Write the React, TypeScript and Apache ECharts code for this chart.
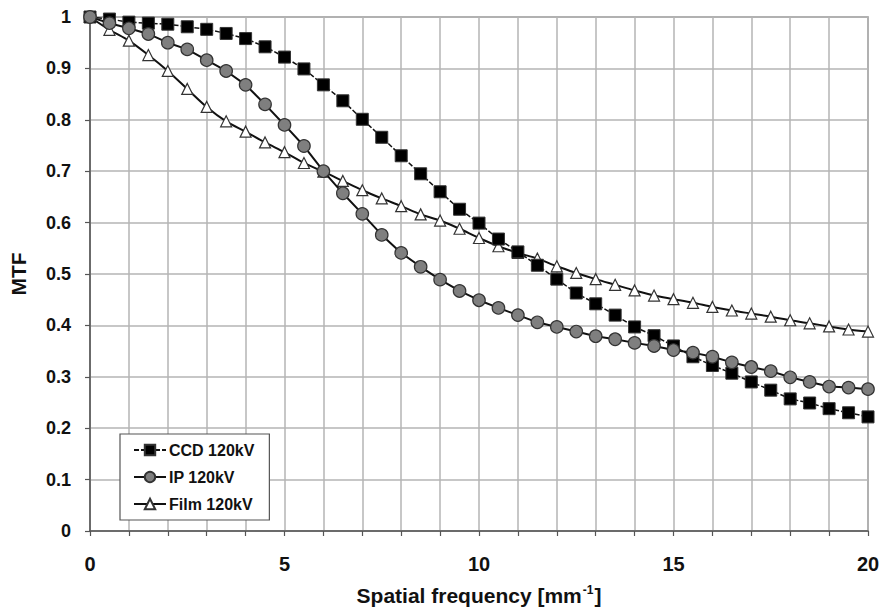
import React, { useEffect, useRef } from "react";
import * as echarts from "echarts";

const freq = [0, 0.5, 1, 1.5, 2, 2.5, 3, 3.5, 4, 4.5, 5, 5.5, 6, 6.5, 7, 7.5, 8, 8.5, 9, 9.5, 10, 10.5, 11, 11.5, 12, 12.5, 13, 13.5, 14, 14.5, 15, 15.5, 16, 16.5, 17, 17.5, 18, 18.5, 19, 19.5, 20];
const ccd = [1.0, 0.996, 0.99, 0.988, 0.986, 0.981, 0.976, 0.968, 0.958, 0.942, 0.922, 0.899, 0.868, 0.837, 0.801, 0.766, 0.73, 0.695, 0.66, 0.626, 0.599, 0.568, 0.543, 0.517, 0.49, 0.463, 0.442, 0.42, 0.397, 0.38, 0.36, 0.339, 0.322, 0.307, 0.29, 0.274, 0.257, 0.249, 0.238, 0.23, 0.222];
const ip = [1.0, 0.988, 0.978, 0.967, 0.95, 0.937, 0.916, 0.895, 0.868, 0.83, 0.79, 0.749, 0.7, 0.657, 0.617, 0.576, 0.541, 0.514, 0.489, 0.467, 0.449, 0.434, 0.42, 0.406, 0.397, 0.388, 0.379, 0.373, 0.366, 0.36, 0.352, 0.347, 0.339, 0.328, 0.319, 0.311, 0.299, 0.29, 0.281, 0.279, 0.276];
const film = [1.0, 0.975, 0.954, 0.926, 0.895, 0.86, 0.825, 0.797, 0.777, 0.756, 0.737, 0.716, 0.699, 0.681, 0.663, 0.647, 0.632, 0.616, 0.604, 0.588, 0.57, 0.554, 0.541, 0.53, 0.515, 0.502, 0.49, 0.479, 0.468, 0.458, 0.451, 0.444, 0.436, 0.429, 0.423, 0.417, 0.41, 0.404, 0.398, 0.392, 0.388];
const seriesNames = ["CCD 120kV", "IP 120kV", "Film 120kV"];

const FONT = "'Liberation Sans', Arial, sans-serif";

export default function App() {
  const ref = useRef<HTMLDivElement>(null);
  useEffect(() => {
    if (!ref.current) return;
    const chart = echarts.init(ref.current, null, { renderer: "svg" });
    const pair = (ys: number[]) => freq.map((x, i) => [x, ys[i]]);
    chart.setOption({
      animation: false,
      backgroundColor: "#ffffff",
      grid: {
        left: 90,
        right: 14,
        top: 17,
        bottom: 80,
        outerBoundsMode: "none",
        containLabel: false,
        show: true,
        borderColor: "#8a8a8a",
        borderWidth: 1.5,
      },
      legend: {
        orient: "vertical",
        left: 120,
        top: 434,
        padding: [8, 15, 8, 13],
        itemGap: 11,
        itemWidth: 32,
        itemHeight: 13,
        backgroundColor: "#ffffff",
        borderColor: "#555555",
        borderWidth: 1.2,
        data: seriesNames,
        textStyle: { fontFamily: FONT, fontWeight: "bold", fontSize: 16, color: "#111", padding: [0, 0, 0, -2] },
      },
      xAxis: {
        type: "value",
        min: 0,
        max: 20,
        interval: 1,
        name: "{a|Spatial frequency [mm}{s|-1}{a|]}",
        nameLocation: "middle",
        nameGap: 53,
        nameTextStyle: {
          rich: {
            a: { fontFamily: FONT, fontWeight: "bold", fontSize: 21, color: "#111", lineHeight: 22 },
            s: { fontFamily: FONT, fontWeight: "bold", fontSize: 12, color: "#111", verticalAlign: "top", lineHeight: 22, padding: [0, 1, 10, 1] },
          },
        },
        axisLine: { lineStyle: { color: "#555", width: 1.5 } },
        axisTick: { show: true, length: 5, lineStyle: { color: "#555", width: 1.2 } },
        axisLabel: {
          fontFamily: FONT,
          fontWeight: "bold",
          fontSize: 20,
          color: "#111",
          margin: 23,
          formatter: (v: number) => (v % 5 === 0 ? String(v) : ""),
        },
        splitLine: { show: true, lineStyle: { color: "#b4b4b4", width: 1.5 } },
      },
      yAxis: {
        type: "value",
        min: 0,
        max: 1,
        interval: 0.1,
        name: "MTF",
        nameLocation: "middle",
        nameGap: 61,
        nameTextStyle: { fontFamily: FONT, fontWeight: "bold", fontSize: 21, color: "#111" },
        axisLine: { show: true, lineStyle: { color: "#555", width: 1.5 } },
        axisTick: { show: true, length: 5, lineStyle: { color: "#555", width: 1.2 } },
        axisLabel: {
          fontFamily: FONT,
          fontWeight: "bold",
          fontSize: 18,
          color: "#111",
          margin: 19,
          formatter: (v: number) => {
            const r = Math.round(v * 10) / 10;
            return r === 0 || r === 1 ? String(r) : r.toFixed(1);
          },
        },
        splitLine: { show: true, lineStyle: { color: "#b4b4b4", width: 1.5 } },
      },
      series: [
        {
          name: seriesNames[0],
          type: "line",
          data: pair(ccd),
          symbol: "rect",
          symbolSize: 12,
          z: 3,
          lineStyle: { color: "#111", width: 1.5, type: [5, 2] },
          itemStyle: { color: "#000", borderColor: "#333", borderWidth: 1 },
        },
        {
          name: seriesNames[1],
          type: "line",
          data: pair(ip),
          symbol: "circle",
          symbolSize: 12.5,
          z: 4,
          lineStyle: { color: "#111", width: 2 },
          itemStyle: { color: "#7f7f7f", borderColor: "#333", borderWidth: 1.2 },
        },
        {
          name: seriesNames[2],
          type: "line",
          data: pair(film),
          symbol: "triangle",
          symbolSize: 11,
          smooth: 0.3,
          z: 2,
          lineStyle: { color: "#111", width: 2 },
          itemStyle: { color: "#ffffff", borderColor: "#333", borderWidth: 1.2 },
        },
      ],
    });
    return () => chart.dispose();
  }, []);
  return (
    <div
      ref={ref}
      style={{ position: "fixed", left: 0, top: 0, width: 882, height: 611 }}
    />
  );
}
